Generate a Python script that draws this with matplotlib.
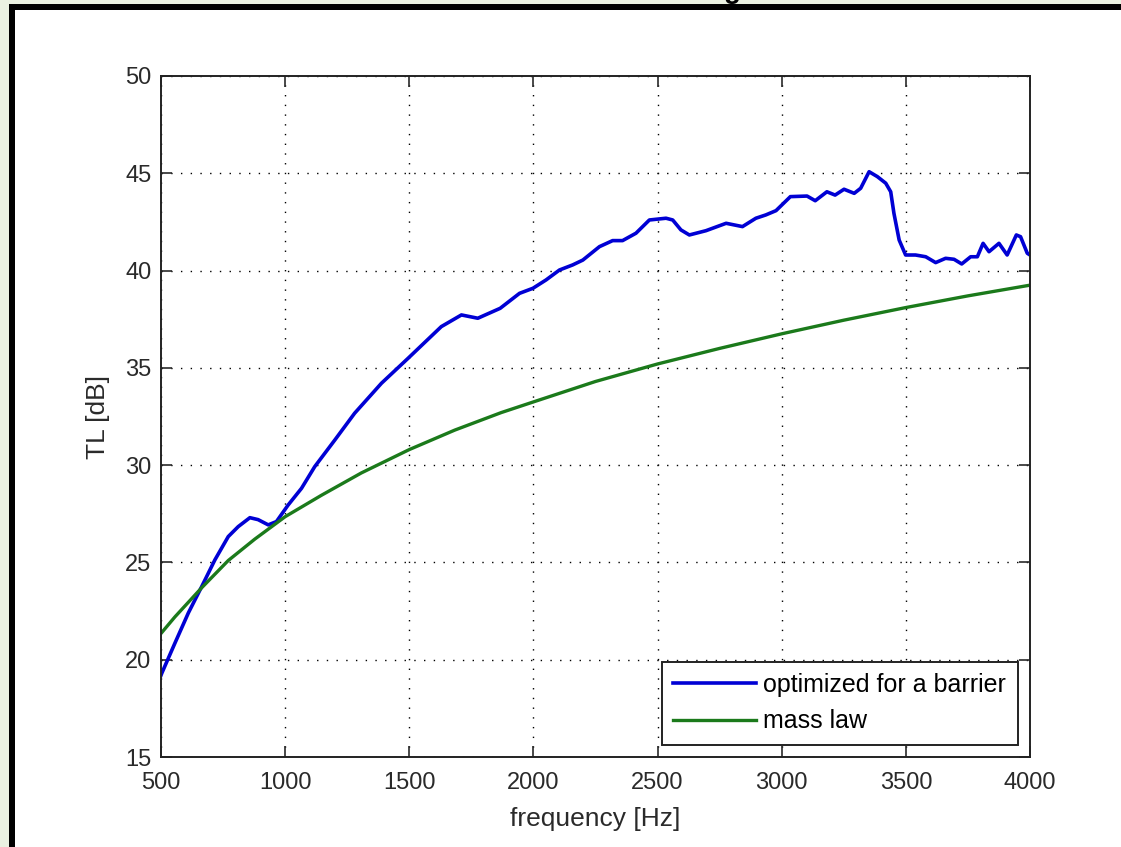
import matplotlib
matplotlib.use("Agg")
import matplotlib.pyplot as plt
from matplotlib.patches import Rectangle

# blue curve: TL of the optimized panel
freq_opt = [500, 503, 556, 610, 664, 717, 771, 811, 858, 891, 932, 965, 1012, 1066,
            1119, 1200, 1280, 1388, 1495, 1629, 1710, 1776, 1866, 1944, 1998, 2051,
            2105, 2158, 2199, 2266, 2319, 2359, 2413, 2467, 2534, 2561, 2594, 2628,
            2695, 2776, 2842, 2896, 2936, 2977, 3035, 3102, 3135, 3182, 3215, 3251,
            3292, 3318, 3352, 3385, 3419, 3439, 3452, 3473, 3499, 3539, 3580, 3620,
            3660, 3694, 3725, 3761, 3788, 3811, 3835, 3875, 3908, 3945, 3962, 3989, 4000]
tl_opt = [19.2, 19.3, 20.85, 22.4, 23.76, 25.13, 26.33, 26.84, 27.3, 27.2, 26.93, 27.1,
          27.95, 28.81, 29.92, 31.29, 32.67, 34.21, 35.49, 37.12, 37.72, 37.55, 38.06,
          38.83, 39.09, 39.52, 40.03, 40.29, 40.54, 41.23, 41.54, 41.54, 41.92, 42.6,
          42.69, 42.6, 42.09, 41.83, 42.05, 42.43, 42.26, 42.69, 42.86, 43.08, 43.8,
          43.83, 43.59, 44.05, 43.88, 44.18, 43.97, 44.23, 45.08, 44.83, 44.49, 44.05,
          42.94, 41.57, 40.8, 40.8, 40.71, 40.41, 40.63, 40.58, 40.34, 40.71, 40.71,
          41.4, 40.97, 41.4, 40.8, 41.83, 41.74, 40.89, 40.8]

# green curve: mass law
freq_mass = [500, 556, 664, 771, 878, 1000, 1146, 1307, 1500, 1683, 1870, 2000, 2250,
             2500, 2750, 3000, 3250, 3500, 3750, 4000]
tl_mass = [21.35, 22.2, 23.7, 25.1, 26.2, 27.35, 28.45, 29.6, 30.8, 31.8, 32.7, 33.25,
           34.3, 35.2, 36.0, 36.75, 37.45, 38.1, 38.7, 39.25]

labels = ["optimized for a barrier", "mass law"]
xticks = [500, 1000, 1500, 2000, 2500, 3000, 3500, 4000]
yticks = [15, 20, 25, 30, 35, 40, 45, 50]

plt.rcParams['font.family'] = ['Liberation Sans', 'DejaVu Sans']

fig = plt.figure(figsize=(11.21, 8.47), dpi=100)
fig.patch.set_facecolor('white')

# frame of the screenshot: green strip plus black band on left and top
W, H = 1121.0, 847.0
fig.add_artist(Rectangle((0, 0), 9 / W, 1, transform=fig.transFigure, color='#eaf1e1', lw=0, zorder=0))
fig.add_artist(Rectangle((0, 1 - 4 / H), 1, 4 / H, transform=fig.transFigure, color='#eaf1e1', lw=0, zorder=0))
fig.add_artist(Rectangle((9 / W, 0), 6 / W, 1 - 4 / H, transform=fig.transFigure, color='black', lw=0, zorder=1))
fig.add_artist(Rectangle((9 / W, 1 - 10 / H), 1 - 9 / W, 6 / H, transform=fig.transFigure, color='black', lw=0, zorder=1))
# bottom of a cut-off bold title letter
fig.text(732 / W, 1 + 2 / H, "g", fontsize=20, fontweight='bold', ha='center', va='baseline', color='black')

ax = fig.add_axes([161 / W, 90 / H, (1030 - 161) / W, (757 - 76) / H])

ax.plot(freq_opt, tl_opt, color='#0000d4', lw=2.6, label=labels[0])
ax.plot(freq_mass, tl_mass, color='#1b7a1b', lw=2.4, label=labels[1])

ax.set_xlim(500, 4000)
ax.set_ylim(15, 50)
ax.set_xticks(xticks)
ax.set_yticks(yticks)
ax.grid(True, color='black', linestyle=(0, (1, 6)), lw=1.0)

ax.tick_params(direction='in', length=8, width=1.2, top=True, right=True, labelsize=17,
               colors='#2a2a2a')
ax.tick_params(axis='x', pad=11)
ax.tick_params(axis='y', pad=7)
for s in ax.spines.values():
    s.set_linewidth(1.4)
    s.set_color('#222222')

ax.set_xlabel("frequency [Hz]", fontsize=19, labelpad=9, color='#2a2a2a')
ax.set_ylabel("TL [dB]", fontsize=19, labelpad=11, color='#2a2a2a')

leg = ax.legend(loc='lower right', fontsize=18, handlelength=3.3, handletextpad=0.3,
                labelspacing=0.5, borderaxespad=0.5, borderpad=0.45, fancybox=False,
                framealpha=1, edgecolor='#222222')
leg.get_frame().set_linewidth(1.4)

fig.savefig("out.png", dpi=100)
